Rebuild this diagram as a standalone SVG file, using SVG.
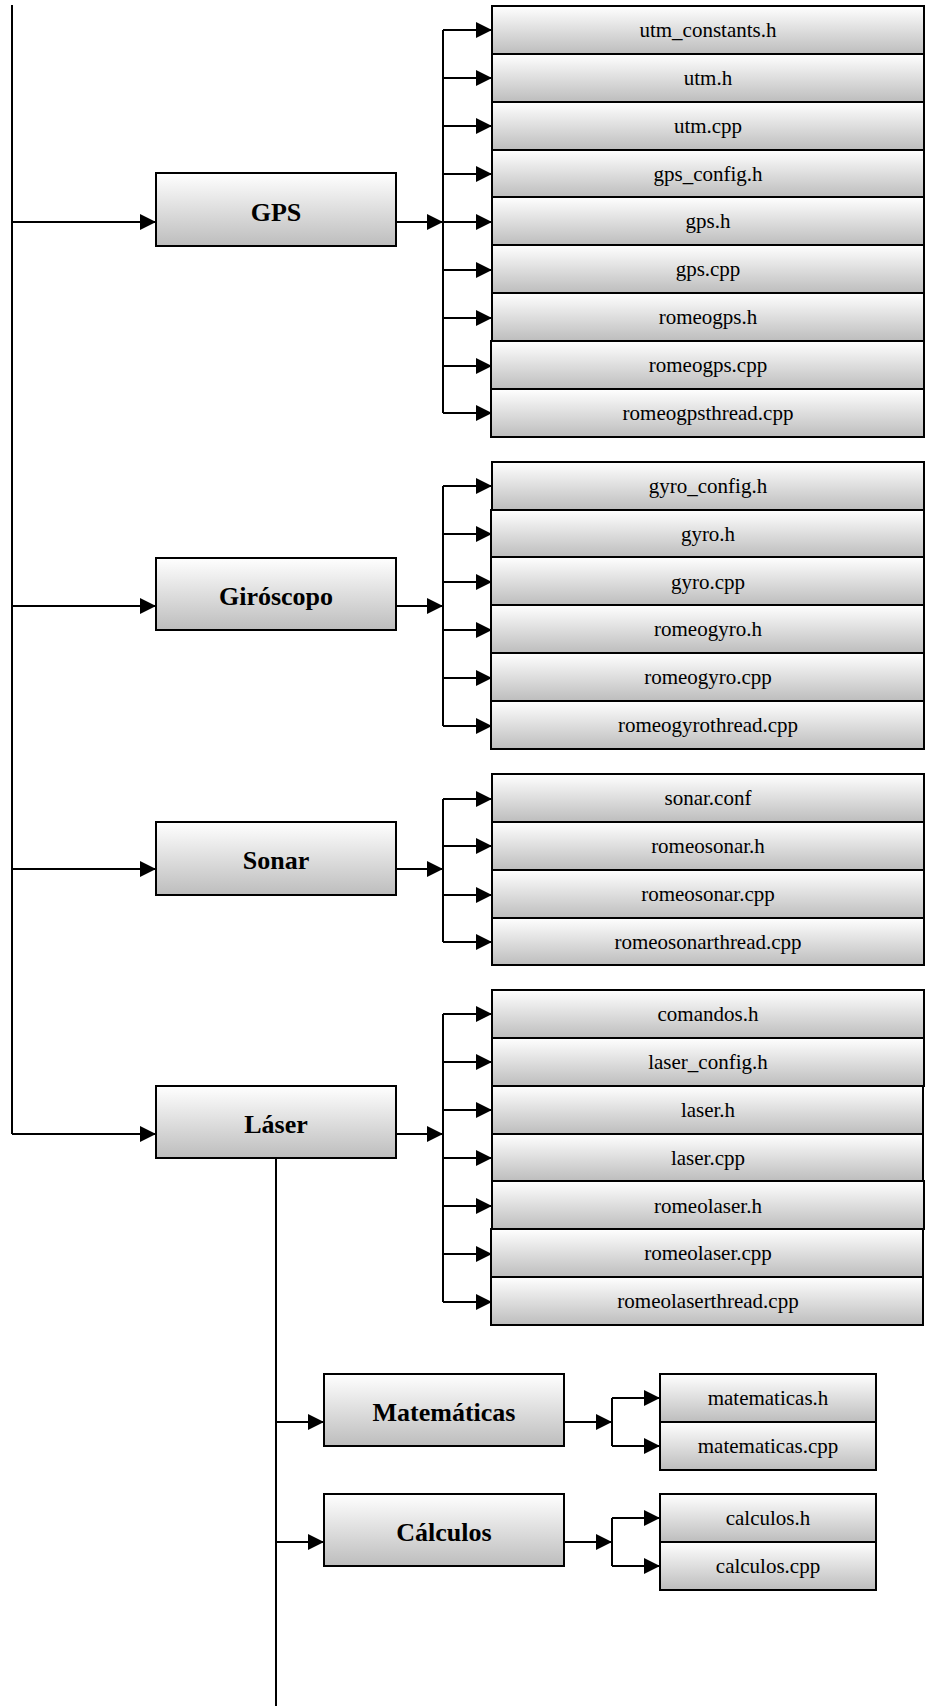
<svg xmlns="http://www.w3.org/2000/svg" width="936" height="1706" viewBox="0 0 936 1706">
  <defs>
    <linearGradient id="boxFill" x1="0" y1="0" x2="0" y2="1">
      <stop offset="0" stop-color="#ffffff"/>
      <stop offset="1" stop-color="#bdbdbd"/>
    </linearGradient>
    <marker id="arrow" markerUnits="userSpaceOnUse" markerWidth="16" markerHeight="16" refX="16" refY="8" orient="auto">
      <path d="M0,0 L16,8 L0,16 Z" fill="#000"/>
    </marker>
    <style>
      rect { fill: url(#boxFill); stroke: #000; stroke-width: 2; }
      .wire { fill: none; stroke: #000; stroke-width: 2; }
      .arr { fill: none; stroke: #000; stroke-width: 2; marker-end: url(#arrow); }
      .mod { font-family: "Liberation Serif", "Times New Roman", serif; font-weight: bold; font-size: 26px; text-anchor: middle; fill: #000; }
      .file { font-family: "Liberation Serif", "Times New Roman", serif; font-size: 21px; text-anchor: middle; fill: #000; }
    </style>
  </defs>

  <!-- connectors -->
  <g id="connectors">
    <!-- main trunk -->
    <path class="wire" d="M12,5 V1134"/>
    <path class="arr" d="M12,222 H156"/>
    <path class="arr" d="M12,606 H156"/>
    <path class="arr" d="M12,869 H156"/>
    <path class="arr" d="M12,1134 H156"/>

    <!-- GPS bus -->
    <path class="arr" d="M396,222 H443"/>
    <path class="wire" d="M443,30 V413"/>
    <path class="arr" d="M443,30 H492"/>
    <path class="arr" d="M443,78 H492"/>
    <path class="arr" d="M443,126 H492"/>
    <path class="arr" d="M443,174 H492"/>
    <path class="arr" d="M443,222 H492"/>
    <path class="arr" d="M443,270 H492"/>
    <path class="arr" d="M443,318 H492"/>
    <path class="arr" d="M443,366 H492"/>
    <path class="arr" d="M443,413 H492"/>

    <!-- Giroscopo bus -->
    <path class="arr" d="M396,606 H443"/>
    <path class="wire" d="M443,486 V726"/>
    <path class="arr" d="M443,486 H492"/>
    <path class="arr" d="M443,534 H492"/>
    <path class="arr" d="M443,582 H492"/>
    <path class="arr" d="M443,630 H492"/>
    <path class="arr" d="M443,678 H492"/>
    <path class="arr" d="M443,726 H492"/>

    <!-- Sonar bus -->
    <path class="arr" d="M396,869 H443"/>
    <path class="wire" d="M443,799 V942"/>
    <path class="arr" d="M443,799 H492"/>
    <path class="arr" d="M443,846 H492"/>
    <path class="arr" d="M443,895 H492"/>
    <path class="arr" d="M443,942 H492"/>

    <!-- Laser bus -->
    <path class="arr" d="M396,1134 H443"/>
    <path class="wire" d="M443,1014 V1302"/>
    <path class="arr" d="M443,1014 H492"/>
    <path class="arr" d="M443,1062 H492"/>
    <path class="arr" d="M443,1110 H492"/>
    <path class="arr" d="M443,1158 H492"/>
    <path class="arr" d="M443,1206 H492"/>
    <path class="arr" d="M443,1254 H492"/>
    <path class="arr" d="M443,1302 H492"/>

    <!-- secondary trunk below Laser -->
    <path class="wire" d="M276,1158 V1706"/>
    <path class="arr" d="M276,1422 H324"/>
    <path class="arr" d="M276,1542 H324"/>

    <!-- Matematicas bus -->
    <path class="arr" d="M564,1422 H612"/>
    <path class="wire" d="M612,1398 V1446"/>
    <path class="arr" d="M612,1398 H660"/>
    <path class="arr" d="M612,1446 H660"/>

    <!-- Calculos bus -->
    <path class="arr" d="M564,1542 H612"/>
    <path class="wire" d="M612,1518 V1566"/>
    <path class="arr" d="M612,1518 H660"/>
    <path class="arr" d="M612,1566 H660"/>
  </g>

  <!-- module nodes -->
  <g id="gps">
    <rect x="156" y="173" width="240" height="73"/>
    <text class="mod" x="276" y="221">GPS</text>
  </g>
  <g id="giroscopo">
    <rect x="156" y="558" width="240" height="72"/>
    <text class="mod" x="276" y="605">Giróscopo</text>
  </g>
  <g id="sonar">
    <rect x="156" y="822" width="240" height="73"/>
    <text class="mod" x="276" y="869">Sonar</text>
  </g>
  <g id="laser">
    <rect x="156" y="1086" width="240" height="72"/>
    <text class="mod" x="276" y="1133">Láser</text>
  </g>
  <g id="matematicas">
    <rect x="324" y="1374" width="240" height="72"/>
    <text class="mod" x="444" y="1421">Matemáticas</text>
  </g>
  <g id="calculos">
    <rect x="324" y="1494" width="240" height="72"/>
    <text class="mod" x="444" y="1541">Cálculos</text>
  </g>

  <!-- GPS files -->
  <g id="gps-files">
    <rect x="492" y="6" width="432" height="48"/><text class="file" x="708" y="37">utm_constants.h</text>
    <rect x="492" y="54" width="432" height="48"/><text class="file" x="708" y="85">utm.h</text>
    <rect x="492" y="102" width="432" height="48"/><text class="file" x="708" y="133">utm.cpp</text>
    <rect x="492" y="150" width="432" height="47"/><text class="file" x="708" y="181">gps_config.h</text>
    <rect x="492" y="197" width="432" height="48"/><text class="file" x="708" y="228">gps.h</text>
    <rect x="492" y="245" width="432" height="48"/><text class="file" x="708" y="276">gps.cpp</text>
    <rect x="492" y="293" width="432" height="48"/><text class="file" x="708" y="324">romeogps.h</text>
    <rect x="491" y="341" width="433" height="48"/><text class="file" x="708" y="372">romeogps.cpp</text>
    <rect x="491" y="389" width="433" height="48"/><text class="file" x="708" y="420">romeogpsthread.cpp</text>
  </g>

  <!-- Giroscopo files -->
  <g id="gyro-files">
    <rect x="492" y="462" width="432" height="48"/><text class="file" x="708" y="493">gyro_config.h</text>
    <rect x="491" y="510" width="433" height="47"/><text class="file" x="708" y="541">gyro.h</text>
    <rect x="491" y="557" width="433" height="48"/><text class="file" x="708" y="589">gyro.cpp</text>
    <rect x="491" y="605" width="433" height="48"/><text class="file" x="708" y="636">romeogyro.h</text>
    <rect x="491" y="653" width="433" height="48"/><text class="file" x="708" y="684">romeogyro.cpp</text>
    <rect x="491" y="701" width="433" height="48"/><text class="file" x="708" y="732">romeogyrothread.cpp</text>
  </g>

  <!-- Sonar files -->
  <g id="sonar-files">
    <rect x="492" y="774" width="432" height="48"/><text class="file" x="708" y="805">sonar.conf</text>
    <rect x="492" y="822" width="432" height="48"/><text class="file" x="708" y="853">romeosonar.h</text>
    <rect x="492" y="870" width="432" height="48"/><text class="file" x="708" y="901">romeosonar.cpp</text>
    <rect x="492" y="918" width="432" height="47"/><text class="file" x="708" y="949">romeosonarthread.cpp</text>
  </g>

  <!-- Laser files -->
  <g id="laser-files">
    <rect x="492" y="990" width="432" height="48"/><text class="file" x="708" y="1021">comandos.h</text>
    <rect x="492" y="1038" width="432" height="48"/><text class="file" x="708" y="1069">laser_config.h</text>
    <rect x="492" y="1086" width="431" height="48"/><text class="file" x="708" y="1117">laser.h</text>
    <rect x="492" y="1134" width="431" height="47"/><text class="file" x="708" y="1165">laser.cpp</text>
    <rect x="492" y="1181" width="432" height="48"/><text class="file" x="708" y="1213">romeolaser.h</text>
    <rect x="491" y="1229" width="432" height="48"/><text class="file" x="708" y="1260">romeolaser.cpp</text>
    <rect x="491" y="1277" width="432" height="48"/><text class="file" x="708" y="1308">romeolaserthread.cpp</text>
  </g>

  <!-- Matematicas files -->
  <g id="matematicas-files">
    <rect x="660" y="1374" width="216" height="48"/><text class="file" x="768" y="1405">matematicas.h</text>
    <rect x="660" y="1422" width="216" height="48"/><text class="file" x="768" y="1453">matematicas.cpp</text>
  </g>

  <!-- Calculos files -->
  <g id="calculos-files">
    <rect x="660" y="1494" width="216" height="48"/><text class="file" x="768" y="1525">calculos.h</text>
    <rect x="660" y="1542" width="216" height="48"/><text class="file" x="768" y="1573">calculos.cpp</text>
  </g>
</svg>
